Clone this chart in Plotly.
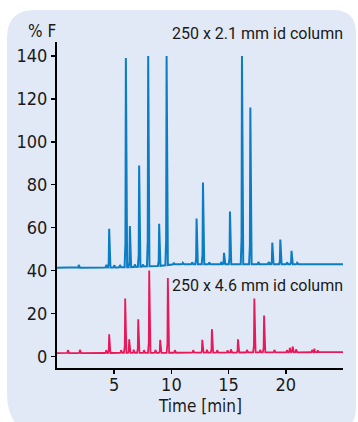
import numpy as np
import plotly.graph_objects as go

# ---------------- data ----------------
# 250 x 2.1 mm id column (blue): peak retention times [min] and apex heights [% F]
blue_times = [1.9, 4.3, 4.56, 5.0, 5.5, 6.02, 6.37, 6.8, 7.18, 7.5, 7.97, 8.93, 9.58,
              10.2, 11.0, 11.8, 12.2, 12.76, 13.3, 14.35, 14.6, 15.12, 16.17, 16.9,
              17.6, 18.5, 18.82, 19.52, 20.1, 20.5, 21.0]
blue_heights = [42.6, 42.6, 59.5, 42.5, 42.6, 139.0, 60.8, 42.8, 89.0, 42.8, 140.0, 61.8, 140.0,
                43.6, 43.6, 43.8, 64.2, 81.0, 43.8, 44.0, 48.3, 67.5, 140.0, 116.0,
                44.0, 44.0, 53.0, 54.5, 43.8, 49.2, 43.6]
# baseline of the blue trace (time, level)
blue_base_t = [0, 6.0, 9.0, 10.5, 25]
blue_base_v = [41.3, 41.5, 42.2, 43.0, 43.0]

# 250 x 4.6 mm id column (red)
red_times = [0.95, 2.0, 4.3, 4.56, 5.6, 5.96, 6.31, 6.7, 7.1, 7.6, 8.06, 8.6, 9.02, 9.69,
             10.3, 11.9, 12.7, 13.1, 13.54, 14.0, 14.9, 15.2, 15.82, 16.6, 17.25, 17.75,
             18.1, 19.0, 20.1, 20.35, 20.6, 20.9, 22.3, 22.5, 22.8]
red_heights = [2.9, 3.1, 2.9, 10.3, 2.9, 27.0, 8.0, 3.1, 17.3, 2.9, 40.0, 3.0, 7.7, 36.5,
               2.9, 2.9, 7.7, 3.1, 12.7, 2.9, 2.8, 3.3, 8.0, 3.0, 27.0, 3.0,
               19.0, 3.0, 2.9, 4.0, 4.6, 3.3, 3.0, 3.6, 2.9]
red_base_t = [0, 25]
red_base_v = [1.5, 2.0]

x_ticks = [5, 10, 15, 20]
y_ticks = [0, 20, 40, 60, 80, 100, 120, 140]

label_top = "250 x 2.1 mm id column"
label_bottom = "250 x 4.6 mm id column"
y_title = "% F"
x_title = "Time [min]"

# ---------------- styles ----------------
BLUE = "#0a7dc4"
RED = "#e8185a"
PANEL = "#e2e9f6"
TICK_FONT = "DejaVu Sans Condensed, Liberation Sans Narrow, sans-serif"
LABEL_FONT = "Roboto, Liberation Sans, sans-serif"
TXT = "#1a1a1a"

W, H = 358, 422
ML, MR, MT, MB = 57, 15, 42, 54
YR = [-5.4, 146.5]
XR = [0, 25]


def chromatogram(times, heights, bt, bv, hw=0.11):
    xs, ys = [0.0], [float(np.interp(0.0, bt, bv))]
    for t, h in sorted(zip(times, heights)):
        b0 = float(np.interp(t - hw, bt, bv))
        b1 = float(np.interp(t + hw, bt, bv))
        bm = float(np.interp(t, bt, bv))
        xs += [t - hw, t - hw * 0.35, t, t + hw * 0.4, t + hw]
        ys += [b0, bm + 0.12 * (h - bm), h, bm + 0.12 * (h - bm), b1]
    xs.append(25.0)
    ys.append(float(np.interp(25.0, bt, bv)))
    return xs, ys


bx, by = chromatogram(blue_times, blue_heights, blue_base_t, blue_base_v)
rx, ry = chromatogram(red_times, red_heights, red_base_t, red_base_v)

fig = go.Figure()
fig.add_trace(go.Scatter(x=bx, y=by, mode="lines", line=dict(color=BLUE, width=2),
                         hoverinfo="skip", showlegend=False))
fig.add_trace(go.Scatter(x=rx, y=ry, mode="lines", line=dict(color=RED, width=1.8),
                         hoverinfo="skip", showlegend=False))

# rounded background panel (pixel coordinates converted to paper)
pw = W - ML - MR
ph = H - MT - MB


def px_x(px):
    return (px - ML) / pw


def px_y(py):
    return (H - MB - py) / ph


def P(px, py):
    return f"{px_x(px):.5f},{px_y(py):.5f}"


panel_path = (
    f"M {P(7, 38)} L {P(7, 393)} Q {P(7, 437)} {P(51, 437)} L {P(330, 432)} "
    f"Q {P(356, 432)} {P(356, 407)} L {P(356, 33)} Q {P(356, 10)} {P(333, 10)} "
    f"L {P(35, 10)} Q {P(7, 10)} {P(7, 38)} Z"
)
fig.add_shape(type="path", xref="paper", yref="paper", path=panel_path,
              fillcolor=PANEL, line=dict(width=0), layer="below")

fig.add_annotation(x=px_x(345), y=px_y(34), xref="paper", yref="paper", text=label_top,
                   showarrow=False, xanchor="right", yanchor="middle",
                   font=dict(family=LABEL_FONT, size=16, color=TXT))
fig.add_annotation(x=px_x(345), y=px_y(285), xref="paper", yref="paper", text=label_bottom,
                   showarrow=False, xanchor="right", yanchor="middle",
                   font=dict(family=LABEL_FONT, size=16, color=TXT))
fig.add_annotation(x=px_x(58), y=px_y(31), xref="paper", yref="paper", text=y_title,
                   showarrow=False, xanchor="right", yanchor="middle",
                   font=dict(family=TICK_FONT, size=17, color=TXT))
fig.add_annotation(x=px_x(200), y=px_y(406), xref="paper", yref="paper", text=x_title,
                   showarrow=False, xanchor="center", yanchor="middle",
                   font=dict(family=TICK_FONT, size=17, color=TXT))

axis_common = dict(ticks="outside", ticklen=4, tickwidth=1.5, tickcolor="black",
                   showline=True, linecolor="black", linewidth=2, showgrid=False,
                   zeroline=False, fixedrange=True, automargin=False,
                   tickfont=dict(family=TICK_FONT, size=18, color=TXT))

fig.update_layout(
    width=W, height=H,
    margin=dict(l=ML, r=MR, t=MT, b=MB, autoexpand=False),
    paper_bgcolor="white",
    plot_bgcolor="rgba(0,0,0,0)",
    xaxis=dict(range=XR, tickvals=x_ticks, ticklabelstandoff=-5, **axis_common),
    yaxis=dict(range=YR, tickvals=y_ticks, **axis_common),
)

fig.write_html("out.html",
               config={"displayModeBar": False, "staticPlot": True},
               post_script="document.body.style.margin='0';document.body.style.padding='0';")
